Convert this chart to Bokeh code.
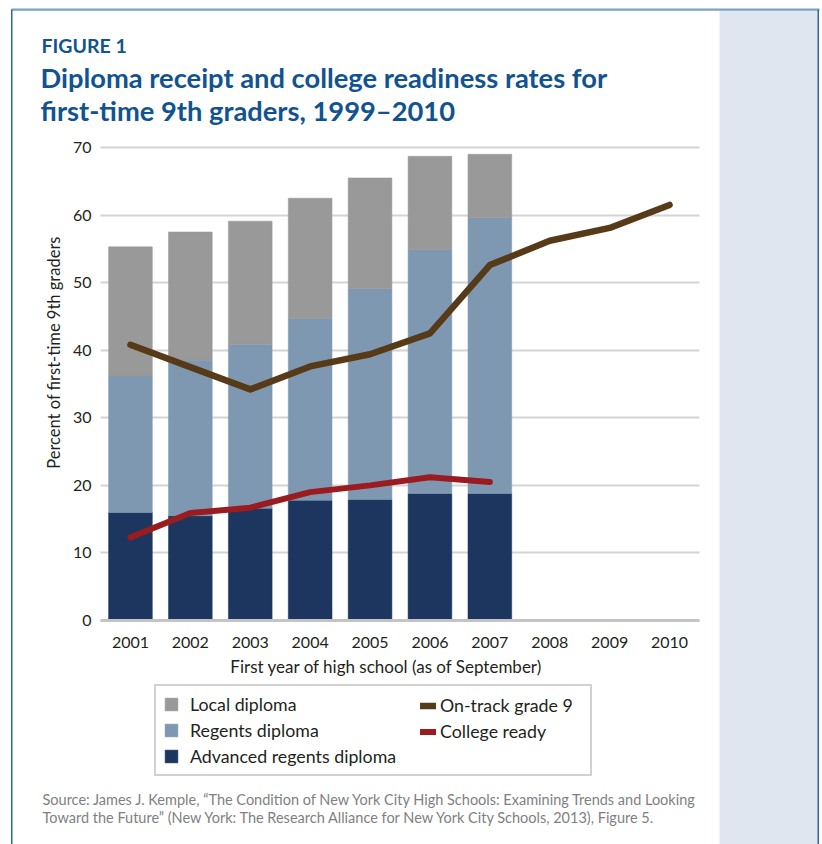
import math
from bokeh.plotting import figure
from bokeh.models import Range1d, Legend, LegendItem, Label, ColumnDataSource, BoxAnnotation
from bokeh.embed import file_html
from bokeh.resources import INLINE

# ---------------- data ----------------
year_labels = ["2001", "2002", "2003", "2004", "2005", "2006", "2007", "2008", "2009", "2010"]
years = [2001, 2002, 2003, 2004, 2005, 2006, 2007, 2008, 2009, 2010]
bar_years = [2001, 2002, 2003, 2004, 2005, 2006, 2007]
advanced_regents = [16.0, 15.5, 16.6, 17.8, 17.9, 18.8, 18.8]
regents = [20.2, 23.0, 24.3, 26.9, 31.2, 36.1, 40.8]
local = [19.1, 19.0, 18.2, 17.8, 16.4, 13.8, 9.4]
on_track = [40.8, 37.5, 34.2, 37.6, 39.4, 42.5, 52.6, 56.2, 58.1, 61.5]
college_ready = [12.3, 15.9, 16.7, 19.0, 20.0, 21.2, 20.5]
y_ticks = [0, 10, 20, 30, 40, 50, 60, 70]

# ---------------- style ----------------
FONT = "Lato"
TEXT = "#231f20"
BLUE_TITLE = "#115391"
C_LOCAL = "#999999"
C_REGENTS = "#7f98b2"
C_ADV = "#1d3660"
C_ONTRACK = "#573a18"
C_COLLEGE = "#9b1c20"

W, H = 822, 844
# plot area (in page pixels) inside the full-page frame
PL, PR, PT, PB = 100, 699, 147, 620
X_LO, X_HI = years[0] - 0.5, years[-1] + 0.5
Y_LO, Y_HI = 0, 70
kx = (PR - PL) / (X_HI - X_LO)
ky = (PB - PT) / (Y_HI - Y_LO)
x_range = Range1d(X_LO - PL / kx, X_HI + (W - PR) / kx)
y_range = Range1d(Y_LO - (H - PB) / ky, Y_HI + PT / ky)

p = figure(width=W, height=H, x_range=x_range, y_range=y_range,
           output_backend="svg", toolbar_location=None,
           min_border_left=0, min_border_right=0, min_border_top=0, min_border_bottom=0)
p.outline_line_color = None
p.background_fill_color = "white"
p.border_fill_color = "white"

def sx(X):
    return X

def sy(Y):
    return H - Y

def box(l, r, t, b, color):
    p.add_layout(BoxAnnotation(left=sx(l), right=sx(r), top=sy(t), bottom=sy(b),
                               left_units="screen", right_units="screen",
                               top_units="screen", bottom_units="screen",
                               fill_color=color, fill_alpha=1, line_color=None,
                               level="underlay"))

# page frame: pale side column, top rule and side rules
box(719, 818, 10, 850, "#dfe6f0")
box(11, 819, 8, 10.2, "#7ba2c4")
box(10.5, 12, 9, 850, "#2a68a2")
box(817, 818.5, 9, 850, "#2a68a2")

# ---------------- bars ----------------
src = ColumnDataSource(dict(year=bar_years, advanced=advanced_regents,
                            regents=regents, local=local))
bars = p.vbar_stack(["advanced", "regents", "local"], x="year", width=0.73,
                    fill_color=[C_ADV, C_REGENTS, C_LOCAL],
                    line_color=[C_ADV, C_REGENTS, C_LOCAL], line_width=0.5,
                    source=src)

# ---------------- lines ----------------
l_on = p.line(x=years, y=on_track, line_color=C_ONTRACK, line_width=6.5,
              line_cap="round", line_join="round")
l_col = p.line(x=bar_years, y=college_ready, line_color=C_COLLEGE, line_width=6,
               line_cap="round", line_join="round")

# ---------------- axes / grid ----------------
p.xgrid.grid_line_color = None
p.yaxis.ticker = y_ticks
p.ygrid.ticker = y_ticks
try:
    p.ygrid.cross_bounds = (X_LO, X_HI)
    p.ygrid.grid_line_color = "#d4d4d4"
    p.ygrid.grid_line_width = 2
except AttributeError:
    p.ygrid.grid_line_color = None
    p.segment(x0=[X_LO] * len(y_ticks), x1=[X_HI] * len(y_ticks), y0=y_ticks, y1=y_ticks,
              line_color="#d4d4d4", line_width=2, level="underlay")

p.xaxis.ticker = years
p.xaxis.major_label_overrides = {y: s for y, s in zip(years, year_labels)}
p.xaxis.fixed_location = Y_LO
p.xaxis.bounds = (X_LO, X_HI)
p.yaxis.fixed_location = X_LO
p.yaxis.bounds = (Y_LO, Y_HI)

for ax in (p.xaxis[0], p.yaxis[0]):
    ax.major_tick_line_color = None
    ax.minor_tick_line_color = None
    ax.major_tick_out = 0
    ax.major_tick_in = 0
    ax.minor_tick_out = 0
    ax.minor_tick_in = 0
    ax.major_label_text_font = FONT
    ax.major_label_text_font_size = "16px"
    ax.major_label_text_color = TEXT
p.xaxis.axis_line_color = "#c4c4c4"
p.xaxis.axis_line_width = 3
p.xaxis.major_label_standoff = 16
p.yaxis.axis_line_color = None
p.yaxis.major_label_standoff = 9

BASE_SHIFT = 0.44   # renderer places the alphabetic baseline ~0.44em low

def add_text(X, Y, text, size_px, color=TEXT, bold=False, align="left", angle=0.0):
    shift = BASE_SHIFT * size_px
    if angle:
        X = X - shift
    else:
        Y = Y - shift
    p.add_layout(Label(x=sx(X), y=sy(Y), x_units="screen", y_units="screen", text=text,
                       text_font=FONT, text_font_size=f"{size_px}px", text_color=color,
                       text_font_style="bold" if bold else "normal",
                       text_align=align, text_baseline="alphabetic", angle=angle))

# axis titles
add_text(61, 352, "Percent of first-time 9th graders", 16.5, align="center",
         angle=math.pi / 2)
add_text(386, 673.5, "First year of high school (as of September)", 17, align="center")

# ---------------- titles ----------------
add_text(41, 53.7, "FIGURE 1", 19.5, color=BLUE_TITLE, bold=True)
add_text(40, 89.5, "Diploma receipt and college readiness rates for", 27.3,
         color=BLUE_TITLE, bold=True)
add_text(40, 122, "first-time 9th graders, 1999\u20132010", 27.3,
         color=BLUE_TITLE, bold=True)

# ---------------- source ----------------
add_text(42, 805.5, "Source: James J. Kemple, \u201cThe Condition of New York City High Schools: "
         "Examining Trends and Looking", 14.5, color="#7f7f7f")
add_text(42, 823.5, "Toward the Future\u201d (New York: The Research Alliance for New York City "
         "Schools, 2013), Figure 5.", 14.5, color="#7f7f7f")

# ---------------- legends ----------------
LA_TOP, LA_H = 691, 7 * 2 + 21 * 3 + 4 * 2
LB_TOP, LB_H = 696, 21 * 2 + 4
leg_a = Legend(items=[LegendItem(label="Local diploma", renderers=[bars[2]]),
                      LegendItem(label="Regents diploma", renderers=[bars[1]]),
                      LegendItem(label="Advanced regents diploma", renderers=[bars[0]])],
               location=(sx(154), H - LA_TOP - LA_H), orientation="vertical", margin=0,
               padding=7, spacing=4, glyph_width=16, glyph_height=16,
               label_standoff=11, label_height=21, label_width=393,
               label_text_font=FONT, label_text_font_size="17.8px",
               label_text_color=TEXT,
               border_line_color="#a3a3a3", border_line_width=2,
               background_fill_color="white", background_fill_alpha=1)
leg_b = Legend(items=[LegendItem(label="On-track grade 9", renderers=[l_on]),
                      LegendItem(label="College ready", renderers=[l_col])],
               location=(sx(420), H - LB_TOP - LB_H), orientation="vertical", margin=0,
               padding=0, spacing=4, glyph_width=16, glyph_height=21,
               label_standoff=4, label_height=21,
               label_text_font=FONT, label_text_font_size="17.8px",
               label_text_color=TEXT,
               border_line_color=None, background_fill_alpha=0)
p.add_layout(leg_a)
p.add_layout(leg_b)

open("out.html", "w").write(file_html(p, INLINE))
